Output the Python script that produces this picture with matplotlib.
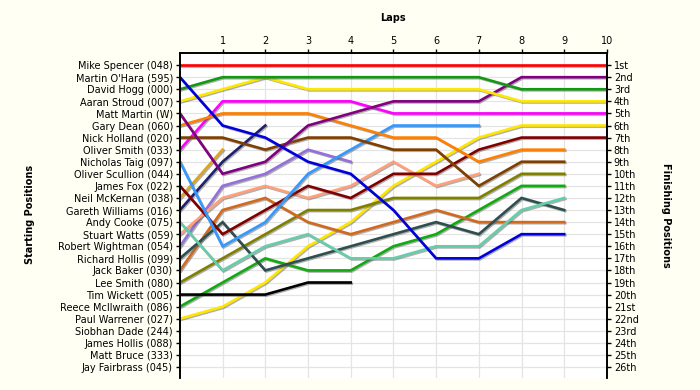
import matplotlib
matplotlib.use("Agg")
import matplotlib.pyplot as plt
import matplotlib.patheffects as pe

# starting grid, top to bottom
drivers = ["Mike Spencer (048)", "Martin O'Hara (595)", "David Hogg (000)", "Aaran Stroud (007)",
           "Matt Martin (W)", "Gary Dean (060)", "Nick Holland (020)", "Oliver Smith (033)",
           "Nicholas Taig (097)", "Oliver Scullion (044)", "James Fox (022)", "Neil McKernan (038)",
           "Gareth Williams (016)", "Andy Cooke (075)", "Stuart Watts (059)", "Robert Wightman (054)",
           "Richard Hollis (099)", "Jack Baker (030)", "Lee Smith (080)", "Tim Wickett (005)",
           "Reece McIlwraith (086)", "Paul Warrener (027)", "Siobhan Dade (244)", "James Hollis (088)",
           "Matt Bruce (333)", "Jay Fairbrass (045)"]

finish_labels = ["1st", "2nd", "3rd", "4th", "5th", "6th", "7th", "8th", "9th", "10th",
                 "11th", "12th", "13th", "14th", "15th", "16th", "17th", "18th", "19th", "20th",
                 "21st", "22nd", "23rd", "24th", "25th", "26th"]

lap_ticks = [1, 2, 3, 4, 5, 6, 7, 8, 9, 10]

# position at the end of each lap (index 0 = grid)
spencer   = [1, 1, 1, 1, 1, 1, 1, 1, 1, 1, 1]
ohara     = [2, 6, 7, 9, 10, 13, 17, 17, 15, 15]
hogg      = [3, 2, 2, 2, 2, 2, 2, 2, 3, 3, 3]
stroud    = [4, 3, 2, 3, 3, 3, 3, 3, 4, 4, 4]
martin    = [5, 10, 9, 6, 5, 4, 4, 4, 2, 2, 2]
dean      = [6, 5, 5, 5, 6, 7, 7, 9, 8, 8]
holland   = [7, 7, 8, 7, 7, 8, 8, 11, 9, 9]
smith_o   = [8, 4, 4, 4, 4, 5, 5, 5, 5, 5, 5]
taig      = [9, 16, 14, 10, 8, 6, 6, 6]
fox       = [11, 15, 13, 11, 12, 10, 10, 8, 7, 7, 7]
mckernan  = [12, 8]
williams  = [13, 9, 6]
cooke     = [14, 18, 16, 15, 17, 17, 16, 16, 13, 12]
watts     = [15, 12, 11, 12, 11, 9, 11, 10]
wightman  = [16, 11, 10, 8, 9]
hollis_r  = [17, 14, 18, 17, 16, 15, 14, 15, 12, 13]
baker     = [18, 13, 12, 14, 15, 14, 13, 14, 14, 14]
smith_l   = [19, 17, 15, 13, 13, 12, 12, 12, 10, 10]
wickett   = [20, 20, 20, 19, 19]
mcilwraith = [21, 19, 17, 18, 18, 16, 15, 13, 11, 11]
warrener  = [22, 21, 19, 16, 14, 11, 9, 7, 6, 6, 6]

series = [spencer, ohara, hogg, stroud, martin, dean, holland, smith_o, taig, fox,
          mckernan, williams, cooke, watts, wightman, hollis_r, baker, smith_l,
          wickett, mcilwraith, warrener]
colors = ["#FF0000", "#0000DD", "#119911", "#FFE800", "#800080", "#FF8000", "#7F3F00",
          "#FF00FF", "#3399FF", "#800000", "#DAA520", "#1F1F6F", "#66CDAA", "#FFA07A",
          "#9370DB", "#2F4F4F", "#D2691E", "#808000", "#000000", "#11AA11", "#FFE600"]

fig = plt.figure(figsize=(7, 3.9), dpi=100, facecolor="#FFFFF4")
ax = fig.add_axes([0.257, 0.031, 0.610, 0.833])
ax.set_facecolor("white")

for s, c in zip(reversed(series), reversed(colors)):
    ax.plot(range(len(s)), s, color=c, lw=1.9, solid_joinstyle="miter",
            path_effects=[pe.SimpleLineShadow(offset=(0.8, -0.8), shadow_color="#606060", alpha=0.5),
                          pe.Normal()])

ax.set_xlim(0, 10)
ax.set_ylim(26.9, 0)

ax.set_yticks(range(1, 27))
ax.set_yticklabels(drivers, fontsize=7)
ax.xaxis.tick_top()
ax.set_xticks(lap_ticks)
ax.set_xticklabels([str(t) for t in lap_ticks], fontsize=7)
ax.tick_params(axis="both", length=3, width=1, pad=2)

ax2 = ax.twinx()
ax2.set_ylim(26.9, 0)
ax2.set_yticks(range(1, 27))
ax2.set_yticklabels(finish_labels, fontsize=7)
ax2.tick_params(axis="y", length=3, width=1, pad=2)

for a in (ax, ax2):
    a.spines["bottom"].set_visible(False)
    for k in ("top", "left", "right"):
        a.spines[k].set_linewidth(1.2)

ax.grid(True, color="#E4E4E4", lw=0.9)
ax.set_axisbelow(True)

fig.text(0.562, 0.953, "Laps", fontsize=7, fontweight="bold", ha="center", va="center")
fig.text(0.043, 0.449, "Starting Positions", fontsize=7, fontweight="bold",
         rotation=90, ha="center", va="center")
fig.text(0.951, 0.449, "Finishing Positions", fontsize=7, fontweight="bold",
         rotation=270, ha="center", va="center")

fig.savefig("out.png", dpi=100, facecolor=fig.get_facecolor())
